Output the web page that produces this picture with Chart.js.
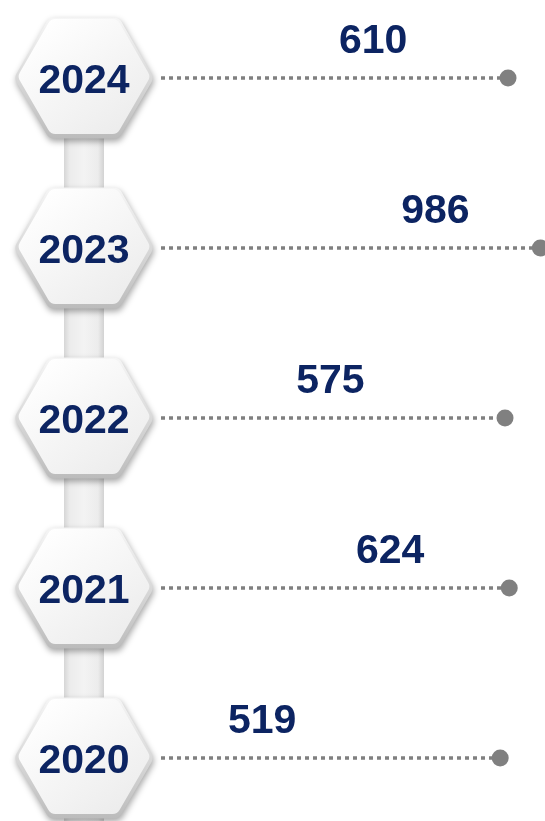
<!DOCTYPE html>
<html>
<head>
<meta charset="utf-8">
<script src="https://cdn.jsdelivr.net/npm/chart.js@4.4.0/dist/chart.umd.min.js"></script>
<style>
    html, body { margin: 0; padding: 0; background: #fff; }
    #wrap { width: 545px; height: 821px; position: relative; }
</style>
</head>
<body>
<div id="wrap"><canvas id="timelineChart"></canvas></div>
<script>
// dados
const years = ['2024', '2023', '2022', '2021', '2020'];
const values = [610, 986, 575, 624, 519];

const navy = '#0c2462';
const dotGray = '#808080';
const hexX = 84;
const hexR = 70;

function hexPath(ctx, cx, cy, r, rad) {
    const pts = [];
    for (let k = 0; k < 6; k++) {
        const a = Math.PI / 3 * k;
        pts.push([cx + r * Math.cos(a), cy + r * Math.sin(a)]);
    }
    ctx.beginPath();
    ctx.moveTo((pts[5][0] + pts[0][0]) / 2, (pts[5][1] + pts[0][1]) / 2);
    for (let k = 0; k < 6; k++) {
        const p = pts[k], q = pts[(k + 1) % 6];
        ctx.arcTo(p[0], p[1], q[0], q[1], rad);
    }
    ctx.closePath();
}

// 1. fundo: barra vertical, hexágonos e linhas pontilhadas
const timelinePlugin = {
    id: 'timeline',
    beforeDatasetsDraw(chart) {
        const ctx = chart.ctx;
        const yScale = chart.scales.y;
        const pts = chart.getDatasetMeta(0).data;
        ctx.save();

        // barra de ligação
        const top = yScale.getPixelForValue(0);
        const g = ctx.createLinearGradient(hexX - 20, 0, hexX + 20, 0);
        g.addColorStop(0, '#d6d6d6');
        g.addColorStop(0.15, '#ececec');
        g.addColorStop(0.5, '#f3f3f3');
        g.addColorStop(0.85, '#ececec');
        g.addColorStop(1, '#d2d2d2');
        ctx.fillStyle = g;
        ctx.fillRect(hexX - 20, top, 40, chart.height - top);

        // linhas pontilhadas
        ctx.strokeStyle = dotGray;
        ctx.lineWidth = 3.5;
        ctx.setLineDash([4, 4]);
        pts.forEach((p) => {
            ctx.beginPath();
            ctx.moveTo(hexX + hexR + 7, p.y);
            ctx.lineTo(p.x - 6, p.y);
            ctx.stroke();
        });
        ctx.setLineDash([]);

        // hexágonos
        years.forEach((yr, i) => {
            const cy = yScale.getPixelForValue(i);
            ctx.save();
            ctx.shadowColor = 'rgba(0,0,0,0.35)';
            ctx.shadowBlur = 6;
            ctx.shadowOffsetY = 3;
            ctx.shadowOffsetX = 1;
            const rim = ctx.createLinearGradient(0, cy - 60, 0, cy + 60);
            rim.addColorStop(0, '#f6f6f6');
            rim.addColorStop(1, '#bcbcbc');
            ctx.fillStyle = rim;
            hexPath(ctx, hexX, cy, hexR, 9);
            ctx.fill();
            ctx.restore();

            const face = ctx.createLinearGradient(hexX - 40, cy - 55, hexX + 40, cy + 55);
            face.addColorStop(0, '#ffffff');
            face.addColorStop(1, '#ececec');
            ctx.fillStyle = face;
            hexPath(ctx, hexX, cy - 1.5, hexR - 3.5, 8);
            ctx.fill();

            ctx.fillStyle = navy;
            ctx.font = 'bold 41px "Liberation Sans", Arial, sans-serif';
            ctx.textAlign = 'center';
            ctx.textBaseline = 'alphabetic';
            ctx.fillText(yr, hexX, cy + 15);
        });
        ctx.restore();
    },
    afterDatasetsDraw(chart) {
        const ctx = chart.ctx;
        const x2 = chart.scales.x2;
        const pts = chart.getDatasetMeta(0).data;
        ctx.save();
        ctx.fillStyle = navy;
        ctx.font = 'bold 41px "Liberation Sans", Arial, sans-serif';
        ctx.textAlign = 'center';
        ctx.textBaseline = 'alphabetic';
        values.forEach((v, i) => {
            const lx = Math.min(x2.getPixelForValue(v), pts[i].x - 105);
            ctx.fillText(String(v), lx, pts[i].y - 25);
        });
        ctx.restore();
    }
};

// 2. gráfico
new Chart(document.getElementById('timelineChart'), {
    type: 'line',
    data: {
        labels: years,
        datasets: [{
            data: values,
            showLine: false,
            pointRadius: 8.5,
            pointHoverRadius: 8.5,
            pointBackgroundColor: dotGray,
            pointBorderWidth: 0,
            clip: false
        }]
    },
    options: {
        indexAxis: 'y',
        responsive: true,
        maintainAspectRatio: false,
        animation: false,
        layout: { autoPadding: false, padding: { top: 78, bottom: 63, left: 0, right: 0 } },
        plugins: { legend: { display: false }, tooltip: { enabled: false } },
        scales: {
            x: { type: 'linear', min: -5300, max: 1040, display: false },
            x2: { type: 'linear', position: 'top', min: 304, max: 751, display: false },
            y: { type: 'category', offset: false, display: false }
        }
    },
    plugins: [timelinePlugin]
});
</script>
</body>
</html>
